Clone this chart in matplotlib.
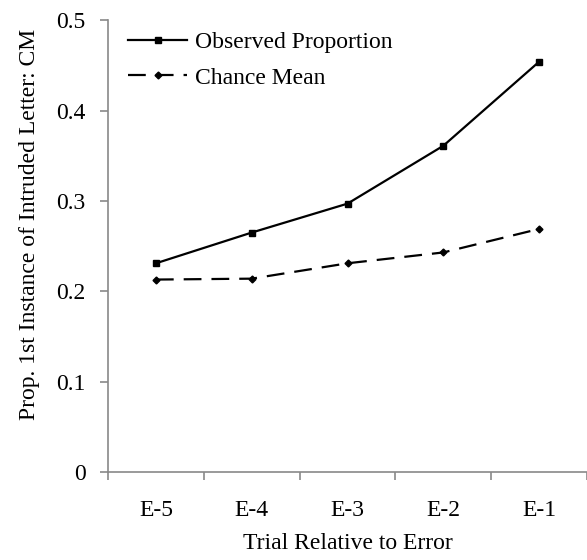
import numpy as np
import matplotlib
matplotlib.use("Agg")
import matplotlib.pyplot as plt

plt.rcParams['font.family'] = ['Liberation Serif', 'DejaVu Serif']

categories = ["E-5", "E-4", "E-3", "E-2", "E-1"]
observed = [0.231, 0.265, 0.297, 0.361, 0.454]
chance = [0.213, 0.214, 0.231, 0.243, 0.269]

fig = plt.figure(figsize=(5.87, 5.6), dpi=100)
ax = fig.add_axes([0.184, 0.157, 0.816, 0.807])

x = np.arange(len(categories))
ax.plot(x, observed, color='black', lw=1.6, marker='s', markersize=5,
        label='Observed Proportion')
ax.plot(x, chance, color='black', lw=1.6, marker='D', markersize=3.5,
        dashes=(8, 4.5), label='Chance Mean')

ax.set_xlim(-0.5, 4.46)
ax.set_ylim(0, 0.5)
ax.set_yticks([0, 0.1, 0.2, 0.3, 0.4, 0.5])
ax.set_yticklabels(["0", "0.1", "0.2", "0.3", "0.4", "0.5"])
ax.set_xticks(x)
ax.set_xticklabels(categories)
ax.set_xticks(np.arange(-0.5, 4.6, 1.0), minor=True)

grey = '#898989'
for s in ['top', 'right']:
    ax.spines[s].set_visible(False)
for s in ['left', 'bottom']:
    ax.spines[s].set_color(grey)
    ax.spines[s].set_linewidth(1.2)

ax.tick_params(axis='x', which='major', length=0, pad=20, labelsize=17)
ax.tick_params(axis='x', which='minor', length=6, color=grey, width=1.2)
ax.tick_params(axis='y', length=6, color=grey, width=1.2, pad=10, labelsize=17)

ax.set_xlabel("Trial Relative to Error", fontsize=17, labelpad=9)
ax.set_ylabel("Prop. 1st Instance of Intruded Letter: CM", fontsize=17, labelpad=12)
ax.yaxis.label.set_y(0.548)

ax.legend(loc='upper left', bbox_to_anchor=(0.042, 0.975), frameon=False,
          borderpad=0, borderaxespad=0,
          fontsize=17, handlelength=2.5, handletextpad=0.35, labelspacing=0.6)

fig.savefig("out.png", dpi=100)
